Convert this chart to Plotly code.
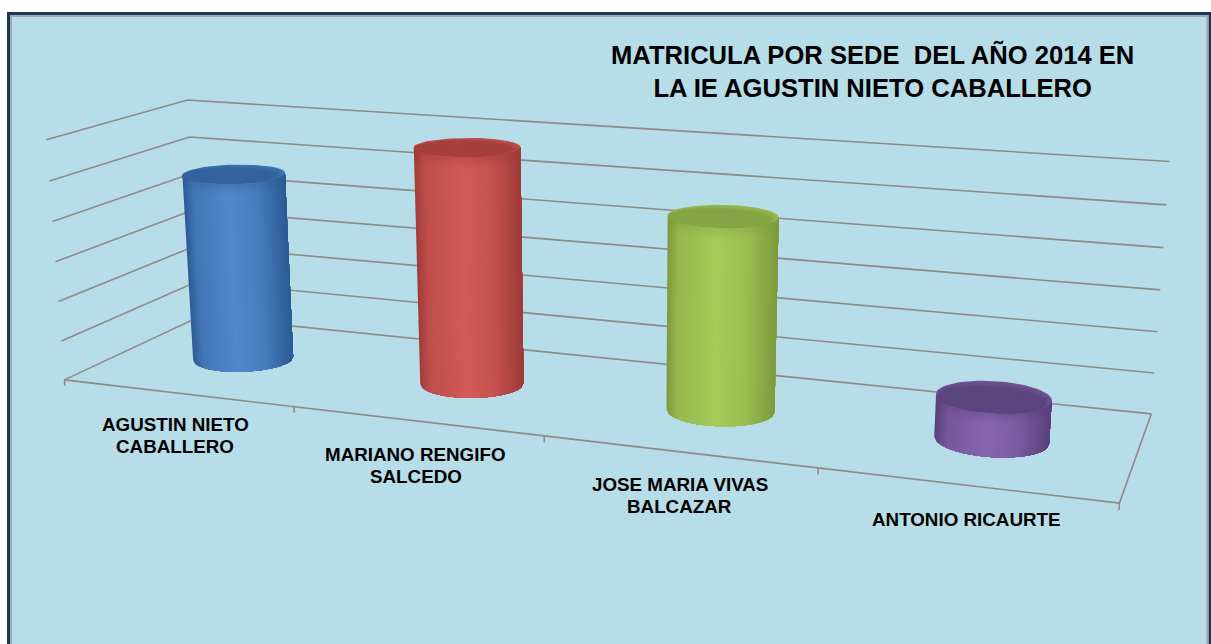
import numpy as np
import plotly.graph_objects as go

W, H = 1211, 644

# ---- chart data ----
categories = ["AGUSTIN NIETO<br>CABALLERO", "MARIANO RENGIFO<br>SALCEDO",
              "JOSE MARIA VIVAS<br>BALCAZAR", "ANTONIO RICAURTE"]
values = [480, 588, 468, 102]
levels = [0, 100, 200, 300, 400, 500, 600]
title_text = "<b>MATRICULA POR SEDE  DEL AÑO 2014 EN<br>LA IE AGUSTIN NIETO CABALLERO</b>"
axis_max = 600

# ---- styling ----
edge_colors = ["#2C5A94", "#9E3B39", "#7C9A3C", "#583F7A"]
light_colors = ["#5189CE", "#D45A57", "#A6CB5A", "#8866AE"]
cap_rim = ["#4073B2", "#BE4E4B", "#97B950", "#6F5392"]
cap_core = ["#33629C", "#A5403D", "#84A445", "#5C447E"]
label_pos = [(175, 424.5), (415.5, 454), (679.5, 484), (966, 519)]
line_gap = 22

# ---- oblique view of the chart box (box coordinates -> picture), solved from its visible corners ----
box_pts = [(0, 0, 0), (0, 0, 1/6), (0, 0, 2/6), (0, 0, 3/6), (0, 0, 4/6), (0, 0, 5/6), (0, 0, 1),
           (1, 1, 0), (1, 1, 1/6), (1, 1, 2/6), (1, 1, 3/6), (1, 1, 4/6), (1, 1, 5/6), (1, 1, 1),
           (0, 1, 0), (0, 1, 5/6), (0, 1, 1), (.25, 0, 0), (.5, 0, 0), (.75, 0, 0), (1, 0, 0)]
img_pts = [(64.3, 379.3), (61, 340.7), (58.3, 301.7), (55.7, 261.7), (52.7, 221.7), (49, 181), (46.7, 140),
           (1151, 414), (1154.7, 372.7), (1157.3, 331.7), (1160, 290), (1163.3, 247.3), (1166.3, 205), (1170, 161.7),
           (200, 317), (190, 136.7), (186.7, 100), (294, 407), (545, 436), (817, 468), (1120, 503)]
rows = []
for (a, b, c), (u, v) in zip(box_pts, img_pts):
    rows.append([a, b, c, 1, 0, 0, 0, 0, -u*a, -u*b, -u*c, -u])
    rows.append([0, 0, 0, 0, a, b, c, 1, -v*a, -v*b, -v*c, -v])
P = np.linalg.svd(np.array(rows, float))[2][-1].reshape(3, 4)


def view(a, b, c):
    a, b, c = np.broadcast_arrays(np.asarray(a, float), np.asarray(b, float), np.asarray(c, float))
    q = P @ np.stack([a, b, c, np.ones_like(a)])
    return q[0]/q[2], q[1]/q[2]


def mix(c1, c2, s):
    p = [int(c1[i:i+2], 16) for i in (1, 3, 5)]
    r = [int(c2[i:i+2], 16) for i in (1, 3, 5)]
    return "rgb(%d,%d,%d)" % tuple(round(p[k]+(r[k]-p[k])*s) for k in range(3))


def poly(fig, x, y, color):
    x = list(x)+[x[0]]
    y = list(y)+[y[0]]
    fig.add_trace(go.Scatter(x=x, y=y, mode="lines", fill="toself", fillcolor=color,
                             line=dict(width=0), hoverinfo="skip", showlegend=False))


fig = go.Figure()
grid = dict(color="#8E8A88", width=1.6)
n = len(categories)
for lv in levels:
    z = lv/axis_max
    x, y = view([0, 0, 1], [0, 1, 1], [z, z, z])
    fig.add_trace(go.Scatter(x=x, y=y, mode="lines", line=grid, hoverinfo="skip", showlegend=False))
x, y = view([0, 1, 1], [0, 0, 1], [0, 0, 0])
fig.add_trace(go.Scatter(x=x, y=y, mode="lines", line=grid, hoverinfo="skip", showlegend=False))
for k in range(n+1):
    x, y = view([k/n, k/n], [0, 0], [0, -0.025])
    fig.add_trace(go.Scatter(x=x, y=y, mode="lines", line=grid, hoverinfo="skip", showlegend=False))

rx, ry, yc = 0.05, 0.19, 0.5
shade_u = [0, .1, .45, .72, 1]
shade_v = [0, .6, 1, .74, 0]
ring = np.linspace(0, 2*np.pi, 73)[:-1]
fine = np.linspace(np.pi/2, 5*np.pi/2, 1441)
for i, val in enumerate(values):
    xc = (i+.5)/n
    z = val/axis_max
    # front arc between the left and right silhouette points, in even screen-width steps
    mx = view(xc+rx*np.cos(fine), yc+ry*np.sin(fine), z/2)[0]
    jl, jr = int(np.argmin(mx)), int(np.argmax(mx))
    arc, ax_u = fine[jl:jr+1], mx[jl:jr+1]
    L, R = ax_u[0], ax_u[-1]
    us = np.linspace(0, 1, 49)
    segs = np.interp(L+us*(R-L), ax_u, arc)
    for j in range(len(segs)-1):
        t = segs[j:]
        xs = xc+rx*np.cos(t)
        ys = yc+ry*np.sin(t)
        bx, by = view(xs, ys, 0)
        tx, ty = view(xs, ys, z)
        s = float(np.interp((us[j]+us[j+1])/2, shade_u, shade_v))
        poly(fig, list(bx)+list(tx[::-1]), list(by)+list(ty[::-1]), mix(edge_colors[i], light_colors[i], s))
    # soft dark band under the rim
    dz = min(0.05, z/4)
    for b, alpha in enumerate([.32, .24, .16, .09, .04]):
        xs = xc+rx*np.cos(segs)
        ys = yc+ry*np.sin(segs)
        ax, ay = view(xs, ys, z-dz*b/5)
        cx, cy = view(xs, ys, z-dz*(b+1)/5)
        p = [int(edge_colors[i][k:k+2], 16) for k in (1, 3, 5)]
        poly(fig, list(ax)+list(cx[::-1]), list(ay)+list(cy[::-1]), "rgba(%d,%d,%d,%.2f)" % (*p, alpha))
    # cap: nested ellipses, lighter at the back rim and darker toward the front
    for k, f in enumerate(np.linspace(1, .62, 9)):
        s = k/8
        fx = 1-(1-f)*.35
        ox, oy = view(xc+fx*rx*np.cos(ring), yc-(1-f)*ry+f*ry*np.sin(ring), z)
        poly(fig, ox, oy, mix(cap_rim[i], cap_core[i], min(1, s*2)))

anns = [dict(text=title_text, x=872.5, y=71, xref="x", yref="y", xanchor="center", yanchor="middle", showarrow=False,
             align="center", font=dict(family="Liberation Sans", size=25.6, color="black"))]
for label, (lx, ly) in zip(categories, label_pos):
    for m, part in enumerate(label.split("<br>")):
        anns.append(dict(text="<b>%s</b>" % part, x=lx, y=ly+m*line_gap, xref="x", yref="y", xanchor="center",
                         yanchor="middle", showarrow=False, align="center",
                         font=dict(family="Liberation Sans", size=18.8, color="black")))

fig.update_layout(
    width=W, height=H, margin=dict(l=0, r=0, t=0, b=0), paper_bgcolor="white", plot_bgcolor="rgba(0,0,0,0)",
    showlegend=False,
    xaxis=dict(range=[0, W], visible=False, domain=[0, 1], fixedrange=True),
    yaxis=dict(range=[H, 0], visible=False, domain=[0, 1], fixedrange=True),
    shapes=[dict(type="rect", layer="below", x0=8.5, x1=1210, y0=13.5, y1=700, fillcolor="#B7DDE8",
                 line=dict(color="#17375E", width=3)),
            dict(type="rect", layer="below", x0=11, x1=1207.5, y0=16, y1=700, fillcolor="#B7DDE8",
                 line=dict(color="#A3A8AA", width=2))],
    annotations=anns)
fig.write_html("out.html", post_script="document.body.style.margin='0';document.body.style.overflow='hidden';",
               config=dict(displayModeBar=False))
